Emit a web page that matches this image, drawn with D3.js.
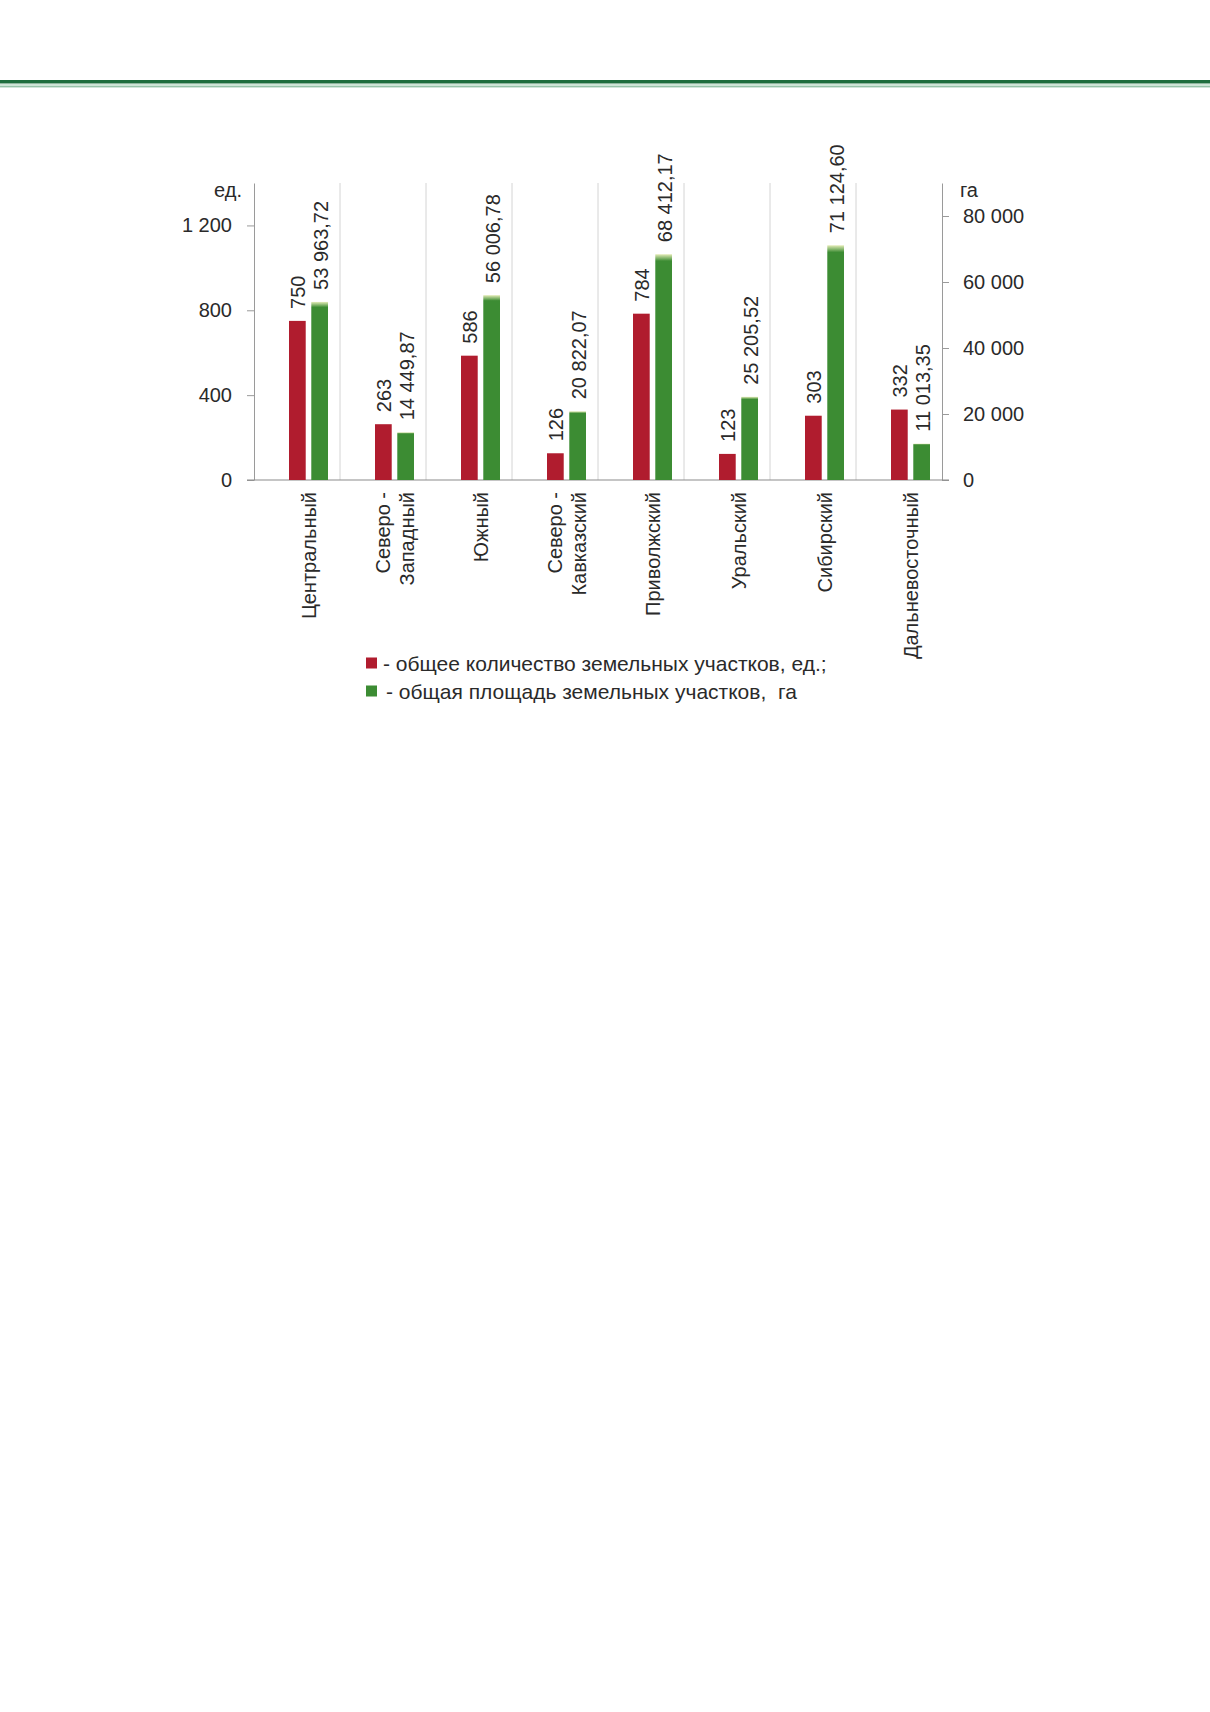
<!DOCTYPE html>
<html lang="ru">
<head>
<meta charset="utf-8">
<title>Земельные участки по федеральным округам</title>
<script src="https://cdn.jsdelivr.net/npm/d3@7"></script>
<style>
  html, body { margin: 0; padding: 0; background: #fff; }
  svg { display: block; font-family: "Liberation Sans", Arial, sans-serif; }
  .axis path, .axis line { stroke: #9a9a9a; }
  .axis text { font-size: 20px; fill: #2a2a2a; }
  .lbl { font-size: 20px; fill: #2a2a2a; }
  .leg { font-size: 21px; fill: #2a2a2a; }
</style>
</head>
<body>
<svg id="chart"></svg>
<script>
// Данные
const categories = [
  ["Центральный"],
  ["Северо -", "Западный"],
  ["Южный"],
  ["Северо -", "Кавказский"],
  ["Приволжский"],
  ["Уральский"],
  ["Сибирский"],
  ["Дальневосточный"]
];
const plotCounts = [750, 263, 586, 126, 784, 123, 303, 332];
const plotAreas = [53963.72, 14449.87, 56006.78, 20822.07, 68412.17, 25205.52, 71124.60, 11013.35];
const leftTicks = [0, 400, 800, 1200];
const rightTicks = [0, 20000, 40000, 60000, 80000];
const legendLabels = [
  "- общее количество земельных участков, ед.;",
  "- общая площадь земельных участков,  га"
];

const width = 1210, height = 1712;
const margin = {top: 183, left: 254, right: 942, bottom: 480};
const red = "#b01c2e", green = "#3c8c33";

const svg = d3.select("#chart").attr("width", width).attr("height", height);

const ru = d3.formatLocale({decimal: ",", thousands: " ", grouping: [3], currency: ["", ""]});
const fmtInt = ru.format(",d");
const fmtDec = ru.format(",.2f");

// Шапка страницы
svg.append("rect").attr("x", 0).attr("y", 80).attr("width", width).attr("height", 3.5).attr("fill", "#1d6d3d");
svg.append("line").attr("x1", 0).attr("x2", width).attr("y1", 85).attr("y2", 85)
   .attr("stroke", "#9cc9ad").attr("stroke-width", 1);
svg.append("line").attr("x1", 0).attr("x2", width).attr("y1", 86.8).attr("y2", 86.8)
   .attr("stroke", "#6aa985").attr("stroke-width", 1);

const idx = categories.map((d, i) => i);

const x = d3.scaleBand().domain(idx).range([margin.left, margin.right]).paddingInner(0).paddingOuter(0);
const xInner = d3.scaleBand().domain(["count", "area"]).range([35, 74]).paddingInner(0.25);

const yL = d3.scaleLinear().domain([0, 1400]).range([margin.bottom, margin.top]);
const yR = d3.scaleLinear().domain([0, 90000]).range([margin.bottom, margin.top]);

// градиент верхушки зелёных столбцов
const defs = svg.append("defs");
const grad = defs.append("linearGradient").attr("id", "gTop").attr("x1", 0).attr("x2", 0).attr("y1", 0).attr("y2", 1);
grad.append("stop").attr("offset", "0").attr("stop-color", "#e4ecb8");
grad.append("stop").attr("offset", "0.03").attr("stop-color", green);
grad.append("stop").attr("offset", "1").attr("stop-color", green);

// Разделители категорий
svg.append("g").selectAll("line")
  .data(idx.slice(1))
  .enter().append("line")
  .attr("x1", d => x(d)).attr("x2", d => x(d))
  .attr("y1", margin.top).attr("y2", margin.bottom)
  .attr("stroke", "#d4d4d4").attr("stroke-width", 1);

// Оси
const axL = svg.append("g").attr("class", "axis")
  .attr("transform", `translate(${margin.left},0)`)
  .call(d3.axisLeft(yL).tickValues(leftTicks).tickFormat(fmtInt).tickSize(7).tickPadding(15).tickSizeOuter(0));
axL.select(".domain").attr("stroke", "#9a9a9a");
axL.selectAll(".tick line").attr("stroke", "#c8c8c8");

const axR = svg.append("g").attr("class", "axis")
  .attr("transform", `translate(${margin.right},0)`)
  .call(d3.axisRight(yR).tickValues(rightTicks).tickFormat(fmtInt).tickSize(7).tickPadding(14).tickSizeOuter(0));
axR.selectAll(".tick line").attr("stroke", "#c8c8c8");

svg.append("line")
  .attr("x1", margin.left - 7).attr("x2", margin.right + 7)
  .attr("y1", margin.bottom).attr("y2", margin.bottom)
  .attr("stroke", "#8c8c8c").attr("stroke-width", 1.2);

// Единицы
svg.append("text").attr("class", "lbl").attr("x", 242).attr("y", 197).attr("text-anchor", "end").text("ед.");
svg.append("text").attr("class", "lbl").attr("x", 960).attr("y", 197).attr("text-anchor", "start").text("га");

// Столбцы
const groups = svg.append("g").selectAll("g")
  .data(idx).enter().append("g")
  .attr("transform", d => `translate(${x(d)},0)`);

groups.append("rect")
  .attr("x", xInner("count")).attr("width", xInner.bandwidth())
  .attr("y", d => yL(plotCounts[d])).attr("height", d => yL(0) - yL(plotCounts[d]))
  .attr("fill", red);

groups.append("rect")
  .attr("x", xInner("area")).attr("width", xInner.bandwidth())
  .attr("y", d => yR(plotAreas[d])).attr("height", d => yR(0) - yR(plotAreas[d]))
  .attr("fill", "url(#gTop)");

// Подписи значений
groups.append("text").attr("class", "lbl")
  .attr("transform", d => `translate(${xInner("count") + xInner.bandwidth() / 2},${yL(plotCounts[d]) - 12}) rotate(-90)`)
  .attr("dy", "0.36em").attr("text-anchor", "start")
  .text(d => fmtInt(plotCounts[d]));

groups.append("text").attr("class", "lbl")
  .attr("transform", d => `translate(${xInner("area") + xInner.bandwidth() / 2 + 1},${yR(plotAreas[d]) - 12}) rotate(-90)`)
  .attr("dy", "0.36em").attr("text-anchor", "start")
  .text(d => fmtDec(plotAreas[d]));

// Подписи категорий
const lineGap = 24;
groups.each(function(d) {
  const lines = categories[d];
  const cx = xInner("count") + (xInner("area") + xInner.bandwidth() - xInner("count")) / 2;
  const g = d3.select(this);
  lines.forEach((t, k) => {
    const off = (k - (lines.length - 1) / 2) * lineGap;
    g.append("text").attr("class", "lbl")
      .attr("transform", `translate(${cx + off},492) rotate(-90)`)
      .attr("dy", "0.36em").attr("text-anchor", "end")
      .text(t);
  });
});

// Легенда
const leg = svg.append("g");
const legRows = [{c: red, t: legendLabels[0], tx: 383, y: 663}, {c: green, t: legendLabels[1], tx: 386, y: 691}];
leg.selectAll("rect").data(legRows).enter().append("rect")
  .attr("x", 366).attr("y", d => d.y - 5.5).attr("width", 11).attr("height", 11).attr("fill", d => d.c);
leg.selectAll("text").data(legRows).enter().append("text")
  .attr("class", "leg").attr("x", d => d.tx).attr("y", d => d.y).attr("dy", "0.36em")
  .style("white-space", "pre")
  .text(d => d.t);
</script>
</body>
</html>
